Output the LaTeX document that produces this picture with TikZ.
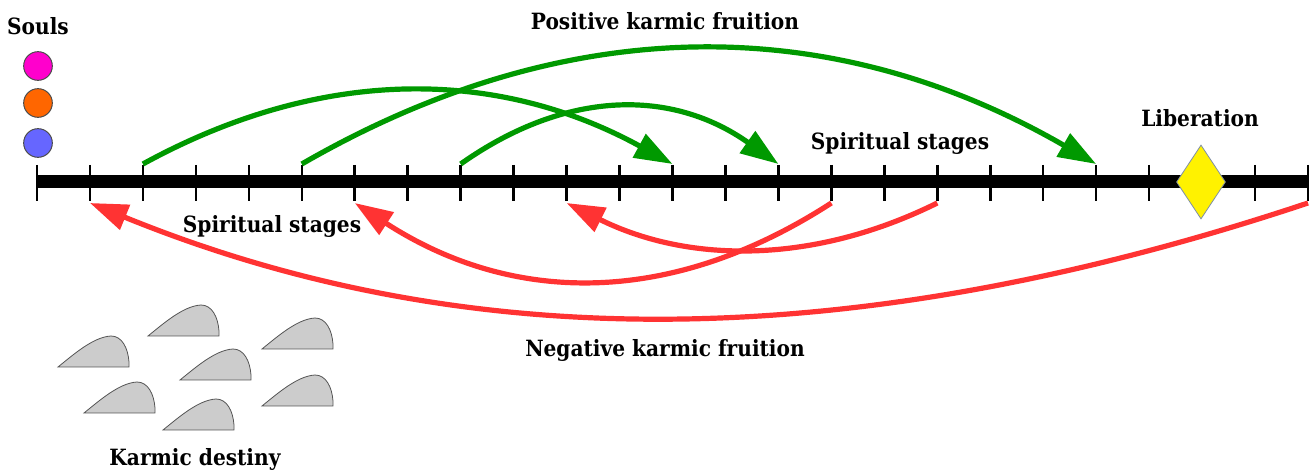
\documentclass[tikz,border=0pt]{standalone}
\usepackage{fontspec}
\setmainfont{DejaVu Serif Condensed}
\usetikzlibrary{arrows.meta,shapes.geometric,calc}
\definecolor{kgreen}{HTML}{009900}
\definecolor{kred}{HTML}{FF3333}
\definecolor{soulA}{HTML}{FF00CC}
\definecolor{soulB}{HTML}{FF6600}
\definecolor{soulC}{HTML}{6666FF}
\definecolor{finfill}{HTML}{CCCCCC}
\definecolor{finedge}{HTML}{555555}
\definecolor{diaedge}{HTML}{7F8FA6}
\begin{document}
\begin{tikzpicture}[x=0.75pt,y=-0.75pt,
  lbl/.style={font=\bfseries\fontsize{16.8}{19}\selectfont, anchor=base, inner sep=0pt},
  posarrow/.style={draw=kgreen, line width=3.9pt, -{Triangle[length=28.5pt,width=19.5pt]}},
  negarrow/.style={draw=kred, line width=3.9pt, -{Triangle[length=28.5pt,width=19.5pt]}},
  soul/.style={circle, draw=black!70, line width=0.75pt, minimum size=21.5pt, inner sep=0pt},
  fin/.style={fill=finfill, draw=finedge, line width=0.6pt},
  tickmark/.style={line width=1.9pt},
  axisline/.style={line width=9.75pt}
]
\useasboundingbox (0,0) rectangle (1315,473);

% axis
\coordinate (a0) at (37,182);
\coordinate (a24) at (1308,182);
\draw[axisline] (a0) -- (a24);
\foreach \i in {0,...,24}{
  \coordinate (tt\i) at (37+52.958*\i,165);
  \coordinate (tb\i) at (37+52.958*\i,201);
  \coordinate (u\i) at (37+52.958*\i,164);
  \coordinate (d\i) at (37+52.958*\i,203);
  \draw[tickmark] (tt\i) -- (tb\i);
}

% liberation diamond
\node[diamond, fill=yellow, draw=diaedge, line width=0.6pt, minimum width=36.75pt, minimum height=55.5pt, inner sep=0pt] (lib) at (1201,182) {};

% souls
\node[soul, fill=soulA] (s1) at (38,66) {};
\node[soul, fill=soulB] (s2) at (38,103) {};
\node[soul, fill=soulC] (s3) at (38,143) {};

% positive karmic fruition
\draw[posarrow] (u2) .. controls +(177,-97) and +(-177,-97) .. (u12);
\draw[posarrow] (u5) .. controls +(265,-153) and +(-265,-153) .. (u20);
\draw[posarrow] (u8) .. controls +(106,-75) and +(-106,-75) .. (u14);

% negative karmic fruition
\draw[negarrow] (d24) .. controls +(-450,150) and +(380,155) .. (d1);
\draw[negarrow] (d15) .. controls +(-159,103) and +(159,103) .. (d6);
\draw[negarrow] (d17) .. controls +(-123,61) and +(123,61) .. (d10);

% karmic destiny fins
\foreach \x/\y [count=\k] in {58/367, 148/336, 262/349, 180/380, 84/413, 163/430, 262/406}{
  \coordinate (f\k) at (\x,\y);
  \draw[fin] (f\k) .. controls +(15,-12) and +(-18,1) .. ++(53,-31)
     .. controls +(11,0) and +(-1,-14) .. ++(18,26) -- ++(0,5) -- cycle;
}

% labels
\node[lbl] (souls) at (38,35) {Souls};
\node[lbl] (poslbl) at (665,30) {Positive karmic fruition};
\node[lbl] (stageup) at (900,150) {Spiritual stages};
\node[lbl] (liblbl) at (1200,127) {Liberation};
\node[lbl] (stagelo) at (272,233) {Spiritual stages};
\node[lbl] (neglbl) at (665,357) {Negative karmic fruition};
\node[lbl] (destiny) at (195,466) {Karmic destiny};
\end{tikzpicture}
\end{document}
